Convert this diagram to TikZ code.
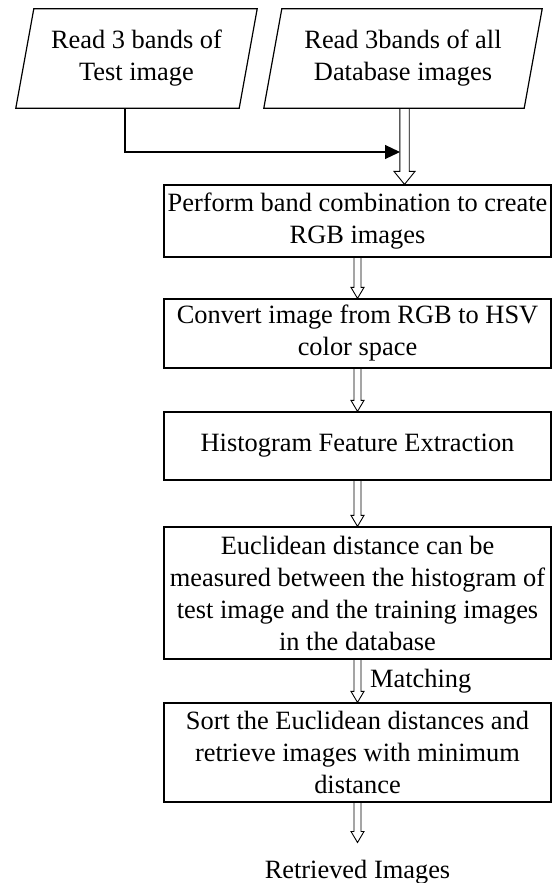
\documentclass[tikz,border=0pt]{standalone}
\usepackage{fontspec}
\setmainfont{Liberation Serif}
\usetikzlibrary{arrows.meta,calc}
\tikzset{
  txt/.style={font=\fontsize{26.4pt}{32pt}\selectfont},
  box/.style={txt, draw, line width=1.2pt, minimum width=387pt, inner sep=0pt, align=center},
  slanted/.style={txt, inner sep=0pt, align=center, minimum height=99pt},
  slantline/.style={line width=1.2pt, line join=miter},
  conn/.style={line width=1.2pt, -{Triangle[length=15pt,width=14pt]}},
  dbl/.style n args={3}{line width=0.9pt, to path={
    ([xshift=-#1]\tikztostart) -- ([xshift=-#1,yshift=#3]\tikztotarget)
    -- ([xshift=-#2,yshift=#3]\tikztotarget) -- (\tikztotarget)
    -- ([xshift=#2,yshift=#3]\tikztotarget) -- ([xshift=#1,yshift=#3]\tikztotarget)
    -- ([xshift=#1]\tikztostart)}},
  dsmall/.style={dbl={3.5pt}{6.5pt}{11pt}},
  dbig/.style={dbl={4.7pt}{10.5pt}{13pt}},
}
\begin{document}
\begin{tikzpicture}[x=1pt,y=-1pt]
\useasboundingbox (0,0) rectangle (556,883);
% input parallelograms
\node[slanted, minimum width=241pt] (p1) at (136.5,58.5) {Read 3 bands of\\Test image};
\draw[slantline] ([xshift=18pt]p1.north west) -- (p1.north east) -- ([xshift=-18pt]p1.south east) -- (p1.south west) -- cycle;
\node[slanted, minimum width=278pt] (p2) at (403,58.5) {Read 3bands of all\\Database images};
\draw[slantline] ([xshift=18pt]p2.north west) -- (p2.north east) -- ([xshift=-18pt]p2.south east) -- (p2.south west) -- cycle;
% process boxes
\node[box, minimum height=72pt] (perform) at (357.5,221) {Perform band combination to create\\RGB images};
\node[box, minimum height=69pt] (convert) at (357.5,333.5) {Convert image from RGB to HSV\\color space};
\node[box, minimum height=68pt] (hist) at (357.5,446) {Histogram Feature Extraction};
\node[box, minimum height=132pt] (eu) at (357.5,593) {Euclidean distance can be\\measured between the histogram of\\test image and the training images\\in the database};
\node[box, minimum height=99pt] (sort) at (357.5,752.5) {Sort the Euclidean distances and\\retrieve images with minimum\\distance};
\node[txt, inner sep=0pt, anchor=base] (ret) at (357.5,878) {Retrieved Images};
% connectors
\coordinate (a1s) at (404.5,108);
\coordinate (a1e) at (a1s |- perform.north);
\coordinate (t1) at (125,108);
\coordinate (t2) at (400,152);
\draw[conn] (t1) |- (t2);
\draw[dbig] (a1s) to (a1e);
\draw[dsmall] (perform.south) to (convert.north);
\draw[dsmall] (convert.south) to (hist.north);
\draw[dsmall] (hist.south) to (eu.north);
\draw[dsmall] (eu.south) to (sort.north);
\node[txt, anchor=west, inner sep=0pt] (match) at ([xshift=12.5pt]$(eu.south)!0.5!(sort.north)$) {Matching};
\draw[dsmall] (sort.south) to ([yshift=17pt]ret.north);
\end{tikzpicture}
\end{document}
